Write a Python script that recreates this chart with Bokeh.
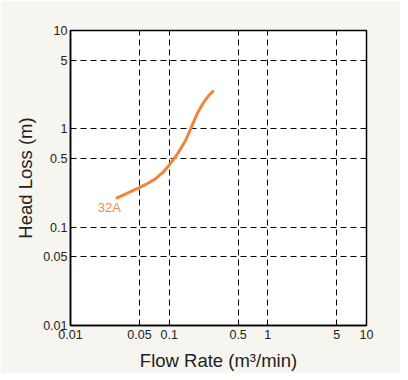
from bokeh.plotting import figure
from bokeh.models import FixedTicker, Label
from bokeh.embed import file_html
from bokeh.resources import INLINE

flow = [0.0297, 0.0492, 0.0598, 0.0726, 0.0863, 0.0992, 0.1205, 0.1466, 0.168, 0.192, 0.2244, 0.252, 0.2767]
head = [0.199, 0.251, 0.276, 0.310, 0.360, 0.424, 0.548, 0.760, 1.04, 1.42, 1.87, 2.18, 2.40]
series_name = "32A"
tick_values = [0.01, 0.05, 0.1, 0.5, 1, 5, 10]
tick_labels = ["0.01", "0.05", "0.1", "0.5", "1", "5", "10"]
grid_values = [0.05, 0.1, 0.5, 1, 5]

FONT = "Liberation Sans"
BG = "#f6f5ef"
TXT = "#222222"

p = figure(width=400, height=372, x_axis_type="log", y_axis_type="log",
           x_range=(0.01, 10), y_range=(0.01, 10),
           output_backend="svg", toolbar_location=None,
           min_border_left=70, min_border_right=34, min_border_top=30, min_border_bottom=47)
p.frame_width = 296
p.frame_height = 295
p.background_fill_color = "white"
p.border_fill_color = BG
p.outline_line_color = "black"
p.outline_line_width = 1.5

for ax in (p.xaxis, p.yaxis):
    ax.ticker = FixedTicker(ticks=tick_values)
    ax.major_label_overrides = {v: l for v, l in zip(tick_values, tick_labels)}
    ax.major_tick_line_color = None
    ax.minor_tick_line_color = None
    ax.major_tick_out = 0
    ax.major_tick_in = 0
    ax.minor_tick_out = 0
    ax.minor_tick_in = 0
    ax.axis_line_color = "black"
    ax.axis_line_width = 1.5
    ax.major_label_text_font = FONT
    ax.major_label_text_font_size = "12.5px"
    ax.major_label_text_color = TXT
    ax.axis_label_text_font = FONT
    ax.axis_label_text_font_size = "18.5px"
    ax.axis_label_text_font_style = "normal"
    ax.axis_label_text_color = TXT

p.xaxis.axis_label = "Flow Rate (m\u00b3/min)"
p.yaxis.axis_label = "Head Loss (m)"
p.xaxis.major_label_standoff = 4
p.yaxis.major_label_standoff = 3
p.xaxis.axis_label_standoff = 8
p.yaxis.axis_label_standoff = 4

for g in (p.xgrid, p.ygrid):
    g.ticker = FixedTicker(ticks=grid_values)
    g.grid_line_color = "black"
    g.grid_line_dash = "6 4"
    g.grid_line_width = 1

p.line(flow, head, line_color="#f0843a", line_width=3, line_cap="round", line_join="round")

p.add_layout(Label(x=0.0248, y=0.158, text=series_name, text_align="center",
                   text_baseline="middle", text_color="#f08a48",
                   text_font=FONT, text_font_size="13px"))

open("out.html", "w").write(file_html(p, INLINE))
